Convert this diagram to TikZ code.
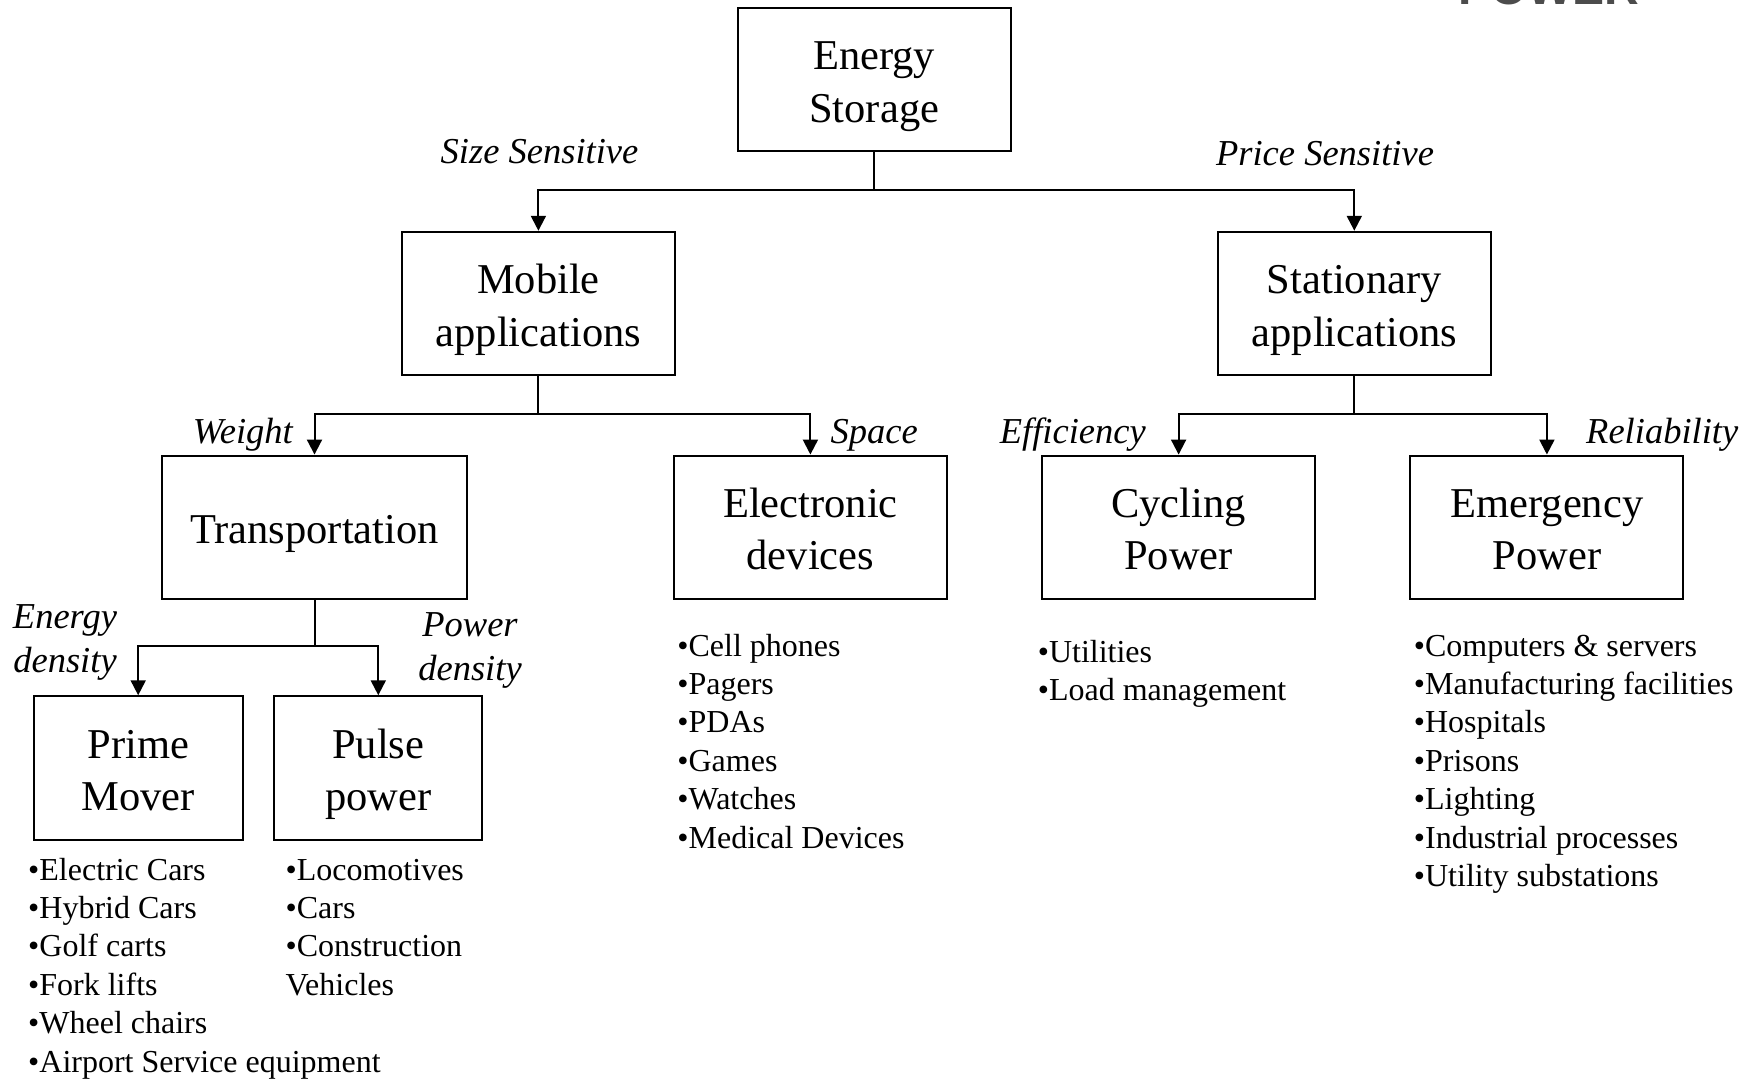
\documentclass[tikz,border=0pt]{standalone}
\usepackage{fontspec}
\setmainfont{Liberation Serif}
\newfontfamily\logofont{Liberation Sans}
\usetikzlibrary{arrows.meta}
\begin{document}
\begin{tikzpicture}[x=1pt,y=-1pt,
 box/.style={draw, line width=2pt, minimum width=273pt, minimum height=143.3pt, inner sep=0pt, align=center, font=\fontsize{42.5}{52.6}\selectfont, text height=#1, text depth=0pt},
 box/.default=85.5pt,
 lab/.style={inner sep=0pt, align=center, font=\fontsize{36.5}{44}\selectfont\itshape},
 lst/.style={inner sep=0pt, align=left, anchor=base west, font=\fontsize{32}{38.4}\selectfont},
 arr/.style={line width=2pt, -{Triangle[length=15pt,width=15pt]}},
 conn/.style={line width=2pt}]
\useasboundingbox (0,0) rectangle (1755,1079);
\clip (0,0) rectangle (1755,1079);
\fill[white] (0,0) rectangle (1755,1079);

% partial logo at top right
\node[anchor=base west, inner sep=0pt, text=black!70, font=\logofont\bfseries\fontsize{48}{48}\selectfont] (logo) at (1458,4.5) {POWER};

% boxes
\node[box] (es) at (874.2,79.4) {Energy\\Storage};
\node[box] (mob) at (538.4,303.4) {Mobile\\applications};
\node[box] (sta) at (1354.3,303.4) {Stationary\\applications};
\node[box=33pt, minimum width=304.4pt] (tra) at (314.5,527.2) {Transportation};
\node[box] (ele) at (810.4,527.2) {Electronic\\devices};
\node[box] (cyc) at (1178.6,527.2) {Cycling\\Power};
\node[box] (eme) at (1546.9,527.2) {Emergency\\Power};
\node[box, minimum width=209.3pt] (pri) at (138.2,767.9) {Prime\\Mover};
\node[box, minimum width=208.2pt] (pul) at (378.3,767.9) {Pulse\\power};

% junctions
\coordinate (j0) at (874.2,190.3);
\coordinate (j1) at (538.4,414.1);
\coordinate (j2) at (1354.3,414.1);
\coordinate (j3) at (314.5,645.8);

\draw[conn] (es.south) -- (j0);
\draw[arr] (j0) -| (mob.north);
\draw[arr] (j0) -| (sta.north);
\draw[conn] (mob.south) -- (j1);
\draw[arr] (j1) -| (tra.north);
\draw[arr] (j1) -| (ele.north);
\draw[conn] (sta.south) -- (j2);
\draw[arr] (j2) -| (cyc.north);
\draw[arr] (j2) -| (eme.north);
\draw[conn] (tra.south) -- (j3);
\draw[arr] (j3) -| (pri.north);
\draw[arr] (j3) -| (pul.north);

% italic labels
\node[lab, anchor=base] (ss) at (539.5,163) {Size Sensitive};
\node[lab, anchor=base] (ps) at (1325,165) {Price Sensitive};
\node[lab, anchor=base east] (wt) at (293,443) {Weight};
\node[lab, anchor=base west] (sp) at (830.5,443) {Space};
\node[lab, anchor=base east] (ef) at (1146,443) {Efficiency};
\node[lab, anchor=base west] (re) at (1586,443) {Reliability};
\node[lab, anchor=base] (ed) at (65,672) {Energy\\density};
\node[lab, anchor=base] (pd) at (470,680.5) {Power\\density};

% lists (anchored at the baseline of their last line)
\node[lst] (l1) at (28,1072) {•Electric Cars\\•Hybrid Cars\\•Golf carts\\•Fork lifts\\•Wheel chairs\\•Airport Service equipment};
\node[lst] (l2) at (285.4,995.2) {•Locomotives\\•Cars\\•Construction\\Vehicles};
\node[lst] (l3) at (677.2,848) {•Cell phones\\•Pagers\\•PDAs\\•Games\\•Watches\\•Medical Devices};
\node[lst] (l4) at (1037.6,700.9) {•Utilities\\•Load management};
\node[lst] (l5) at (1413.7,886.4) {•Computers \& servers\\•Manufacturing facilities\\•Hospitals\\•Prisons\\•Lighting\\•Industrial processes\\•Utility substations};
\end{tikzpicture}
\end{document}
